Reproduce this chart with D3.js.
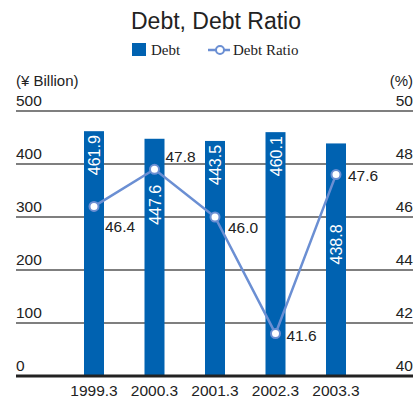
<!DOCTYPE html>
<html>
<head>
<meta charset="utf-8">
<script src="https://cdn.jsdelivr.net/npm/d3@7.9.0/dist/d3.min.js"></script>
<style>
  body { margin: 0; background: #fff; }
  text { font-family: "Liberation Sans", Arial, sans-serif; }
</style>
</head>
<body>
<svg id="chart" width="416" height="399"></svg>
<script>
const years = ["1999.3", "2000.3", "2001.3", "2002.3", "2003.3"];
const debt = [461.9, 447.6, 443.5, 460.1, 438.8];
const debtRatio = [46.4, 47.8, 46.0, 41.6, 47.6];
const leftTicks = [0, 100, 200, 300, 400, 500];
const rightTicks = [40, 42, 44, 46, 48, 50];

const barColor = "#0062b1";
const lineColor = "#6b8fd3";

const svg = d3.select("#chart");

const x = d3.scalePoint().domain(years).range([94, 336]);
const y = d3.scaleLinear().domain([0, 500]).range([376, 111]);
const y2 = d3.scaleLinear().domain([40, 50]).range([376, 111]);

// title
svg.append("text")
  .attr("x", 216).attr("y", 29)
  .attr("text-anchor", "middle")
  .attr("font-size", 23)
  .attr("fill", "#222")
  .text("Debt, Debt Ratio");

// legend
const legend = svg.append("g");
legend.append("rect")
  .attr("x", 132).attr("y", 43).attr("width", 14).attr("height", 13)
  .attr("fill", barColor);
legend.append("text")
  .attr("x", 151).attr("y", 55)
  .attr("font-size", 15).attr("fill", "#222")
  .style("font-family", "'Liberation Serif', serif")
  .text("Debt");
legend.append("line")
  .attr("x1", 208).attr("x2", 230).attr("y1", 50).attr("y2", 50)
  .attr("stroke", lineColor).attr("stroke-width", 2.5);
legend.append("circle")
  .attr("cx", 220).attr("cy", 50).attr("r", 4)
  .attr("fill", "#fff").attr("stroke", lineColor).attr("stroke-width", 2);
legend.append("text")
  .attr("x", 233).attr("y", 55)
  .attr("font-size", 15).attr("fill", "#222")
  .style("font-family", "'Liberation Serif', serif")
  .text("Debt Ratio");

// axis unit labels
svg.append("text")
  .attr("x", 16).attr("y", 86)
  .attr("font-size", 15).attr("fill", "#222")
  .text("(¥ Billion)");
svg.append("text")
  .attr("x", 413).attr("y", 86)
  .attr("text-anchor", "end")
  .attr("font-size", 15).attr("fill", "#222")
  .text("(%)");

// gridlines + tick labels
const grid = svg.append("g");
leftTicks.forEach((t, i) => {
  grid.append("line")
    .attr("x1", 16).attr("x2", 413)
    .attr("y1", y(t)).attr("y2", y(t))
    .attr("stroke", "#555")
    .attr("stroke-width", 1.5);
  grid.append("text")
    .attr("x", 16).attr("y", y(t) - 5)
    .attr("font-size", 15.5).attr("fill", "#222")
    .text(t);
  grid.append("text")
    .attr("x", 413).attr("y", y2(rightTicks[i]) - 5)
    .attr("text-anchor", "end")
    .attr("font-size", 15.5).attr("fill", "#222")
    .text(rightTicks[i]);
});

// bars
const barW = 20;
svg.append("g").selectAll("rect")
  .data(debt)
  .join("rect")
  .attr("x", (d, i) => x(years[i]) - barW / 2)
  .attr("y", d => y(d))
  .attr("width", barW)
  .attr("height", d => y(0) - y(d))
  .attr("fill", barColor);

// baseline over bars
svg.append("line")
  .attr("x1", 16).attr("x2", 413)
  .attr("y1", y(0)).attr("y2", y(0))
  .attr("stroke", "#222").attr("stroke-width", 3);

// bar labels (rotated); some pushed down below the ratio line
const barLabelDrop = [4, 46, 4, 4, 81];
svg.append("g").selectAll("text")
  .data(debt)
  .join("text")
  .attr("transform", (d, i) => `translate(${x(years[i]) + 6},${y(d) + barLabelDrop[i]}) rotate(-90)`)
  .attr("text-anchor", "end")
  .attr("font-size", 16)
  .attr("fill", "#fff")
  .text(d => d.toFixed(1));

// line
const line = d3.line()
  .x((d, i) => x(years[i]))
  .y(d => y2(d));
svg.append("path")
  .datum(debtRatio)
  .attr("d", line)
  .attr("fill", "none")
  .attr("stroke", lineColor)
  .attr("stroke-width", 2.5);

svg.append("g").selectAll("circle")
  .data(debtRatio)
  .join("circle")
  .attr("cx", (d, i) => x(years[i]))
  .attr("cy", d => y2(d))
  .attr("r", 4.5)
  .attr("fill", "#fff")
  .attr("stroke", lineColor)
  .attr("stroke-width", 2);

// line labels: offsets [dx, dy] relative to point
const ratioLabelOffsets = [[11, 26], [11, -7], [13, 16], [11, 7], [12, 6]];
svg.append("g").selectAll("text")
  .data(debtRatio)
  .join("text")
  .attr("x", (d, i) => x(years[i]) + ratioLabelOffsets[i][0])
  .attr("y", (d, i) => y2(d) + ratioLabelOffsets[i][1])
  .attr("font-size", 15.5)
  .attr("fill", "#222")
  .text(d => d.toFixed(1));

// x labels
svg.append("g").selectAll("text")
  .data(years)
  .join("text")
  .attr("x", d => x(d))
  .attr("y", 396)
  .attr("text-anchor", "middle")
  .attr("font-size", 15.5)
  .attr("fill", "#222")
  .text(d => d);
</script>
</body>
</html>
